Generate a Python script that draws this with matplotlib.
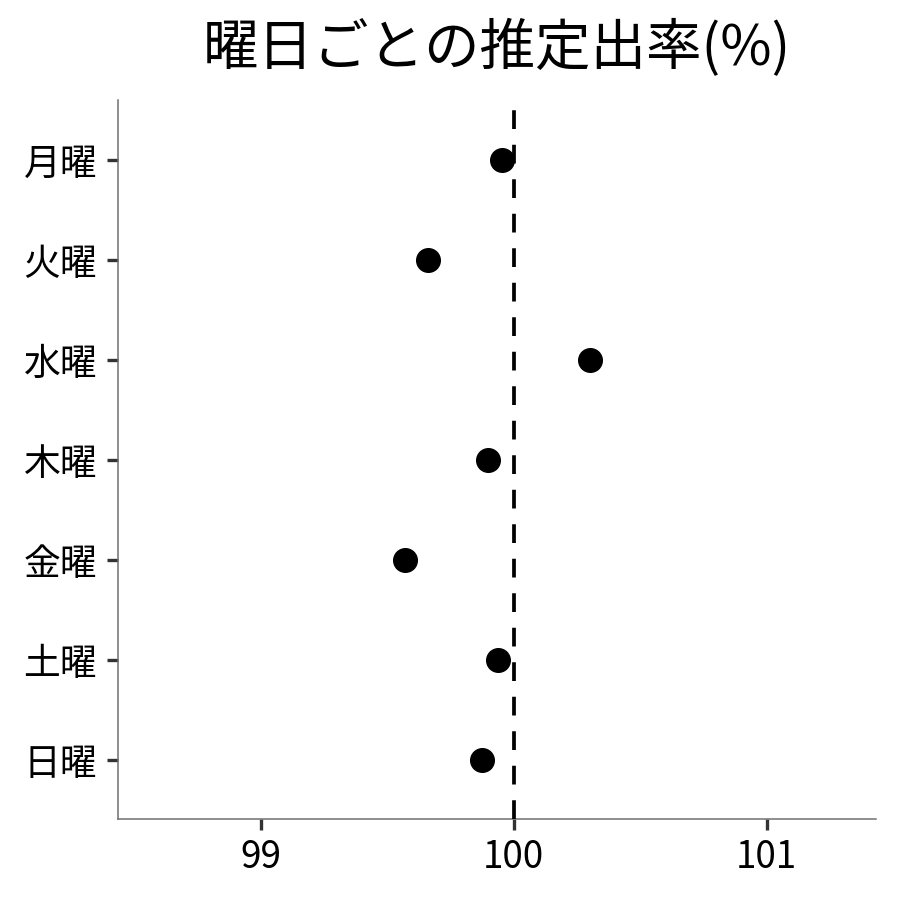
import numpy as np
from matplotlib import pyplot as plt

plt.rcParams['font.family'] = ['Noto Sans CJK JP', 'DejaVu Sans']

曜日 = ['月曜', '火曜', '水曜', '木曜', '金曜', '土曜', '日曜']
推定出率 = [99.953, 99.66, 100.30, 99.897, 99.569, 99.937, 99.874]
xticks = [99, 100, 101]

fig = plt.figure(figsize=(9, 9), dpi=100)
ax = fig.add_axes([0.131, 0.09, 0.842, 0.799])

ypos = np.arange(len(曜日))
ax.plot(推定出率, ypos, 'o', color='black', markersize=17, zorder=2)
ax.axvline(100, color='black', lw=2.7, linestyle=(0, (5, 4.2)), zorder=3)

ax.set_yticks(ypos)
ax.set_yticklabels(曜日)
ax.set_ylim(len(曜日) - 1 + 0.59, -0.6)
ax.set_xticks(xticks)
ax.set_xticklabels([str(v) for v in xticks])
ax.set_xlim(98.435, 101.431)

for s in ['top', 'right']:
    ax.spines[s].set_visible(False)
for s in ['left', 'bottom']:
    ax.spines[s].set_color('#707070')
    ax.spines[s].set_linewidth(1.1)
ax.tick_params(axis='both', length=8, width=2.4, color='#333333', labelsize=26.5, labelcolor='black')
ax.tick_params(axis='y', pad=7)
ax.tick_params(axis='x', pad=6)

ax.set_title('曜日ごとの推定出率(%)', fontsize=40, pad=25)

fig.savefig('out.png', dpi=100)
